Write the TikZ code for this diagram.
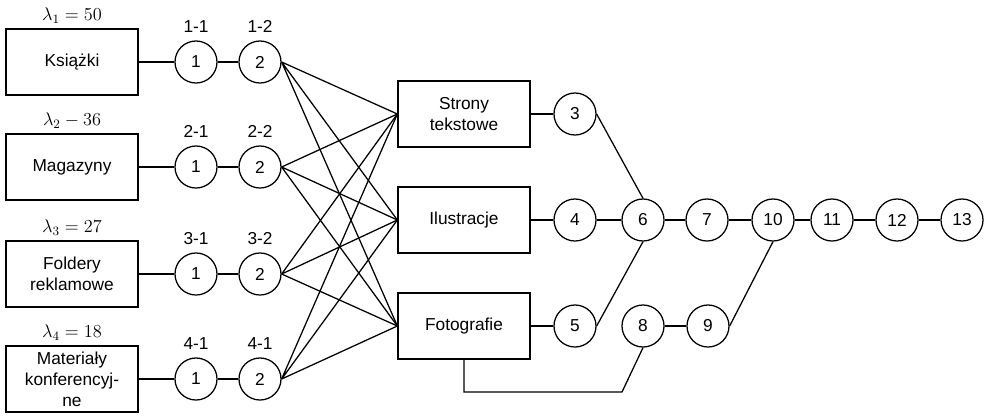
\RequirePackage{fix-cm}
\documentclass[tikz,border=0pt]{standalone}
\usepackage{fontspec}
\setmainfont{Liberation Sans}
\usetikzlibrary{positioning}

\begin{document}
\begin{tikzpicture}[
x=0.025cm, y=-0.025cm, line width=0.9pt,
squarednode/.style={rectangle, draw=black, minimum width=3.3cm, minimum height=1.65cm, align=center, font=\fontsize{12.3}{15}\selectfont},
roundnode/.style={circle, draw=black, minimum size=1.05cm, inner sep=0pt, font=\fontsize{12.3}{15}\selectfont},
tagnode/.style={font=\fontsize{12.3}{15}\selectfont},
lambdanode/.style={font=\fontsize{13}{15}\selectfont},
]
\useasboundingbox (0,0) rectangle (985,416);

%Sources
\node[squarednode]      (books)      at (72,62)  {Książki};
\node[squarednode]      (magazines)  at (72,167) {Magazyny};
\node[squarednode]      (folders)    at (72,274) {Foldery\\reklamowe};
\node[squarednode]      (conference) at (72,379) {Materiały\\konferencyj-\\ne};
\node[lambdanode]       (lambda1)    [above=0pt of books]      {$\lambda_1 = 50$};
\node[lambdanode]       (lambda2)    [above=0pt of magazines]  {$\lambda_2 - 36$};
\node[lambdanode]       (lambda3)    [above=0pt of folders]    {$\lambda_3 = 27$};
\node[lambdanode]       (lambda4)    [above=0pt of conference] {$\lambda_4 = 18$};

%Two stations per source
\node[roundnode]        (b1) at (196,62)  {1};
\node[roundnode]        (b2) at (260,62)  {2};
\node[roundnode]        (m1) at (196,167) {1};
\node[roundnode]        (m2) at (260,167) {2};
\node[roundnode]        (f1) at (196,274) {1};
\node[roundnode]        (f2) at (260,274) {2};
\node[roundnode]        (c1) at (196,379) {1};
\node[roundnode]        (c2) at (260,379) {2};
\node[tagnode]          (tagb1) [above=2pt of b1] {1-1};
\node[tagnode]          (tagb2) [above=2pt of b2] {1-2};
\node[tagnode]          (tagm1) [above=2pt of m1] {2-1};
\node[tagnode]          (tagm2) [above=2pt of m2] {2-2};
\node[tagnode]          (tagf1) [above=2pt of f1] {3-1};
\node[tagnode]          (tagf2) [above=2pt of f2] {3-2};
\node[tagnode]          (tagc1) [above=2pt of c1] {4-1};
\node[tagnode]          (tagc2) [above=2pt of c2] {4-1};

%Page types
\node[squarednode]      (pages)    at (464,114) {Strony\\tekstowe};
\node[squarednode]      (drawings) at (464,220) {Ilustracje};
\node[squarednode]      (photos)   at (464,326) {Fotografie};

%Processing chain
\node[roundnode]        (n3)  at (575,114) {3};
\node[roundnode]        (n4)  at (575,220) {4};
\node[roundnode]        (n5)  at (575,326) {5};
\node[roundnode]        (n6)  at (643,220) {6};
\node[roundnode]        (n7)  at (707,220) {7};
\node[roundnode]        (n8)  at (643,326) {8};
\node[roundnode]        (n9)  at (708,326) {9};
\node[roundnode]        (n10) at (773,220) {10};
\node[roundnode]        (n11) at (832,220) {11};
\node[roundnode]        (n12) at (897,220) {12};
\node[roundnode]        (n13) at (962,220) {13};
\coordinate (bend) at (622,392);

%Lines
\draw (books) -- (b1) -- (b2);
\draw (magazines) -- (m1) -- (m2);
\draw (folders) -- (f1) -- (f2);
\draw (conference) -- (c1) -- (c2);
\draw (b2.east) -- (pages.west) (b2.east) -- (drawings.west) (b2.east) -- (photos.west);
\draw (m2.east) -- (pages.west) (m2.east) -- (drawings.west) (m2.east) -- (photos.west);
\draw (f2.east) -- (pages.west) (f2.east) -- (drawings.west) (f2.east) -- (photos.west);
\draw (c2.east) -- (pages.west) (c2.east) -- (drawings.west) (c2.east) -- (photos.west);
%Lines
\draw (pages) -- (n3);
\draw (drawings) -- (n4) -- (n6) -- (n7) -- (n10) -- (n11) -- (n12) -- (n13);
\draw (photos) -- (n5);
\draw (n3.east) -- (n6.north);
\draw (n5.east) -- (n6.south);
\draw (n8) -- (n9);
\draw (n9.east) -- (n10.south);
\draw (photos.south) |- (bend) -- (n8.south);
\end{tikzpicture}
\end{document}
